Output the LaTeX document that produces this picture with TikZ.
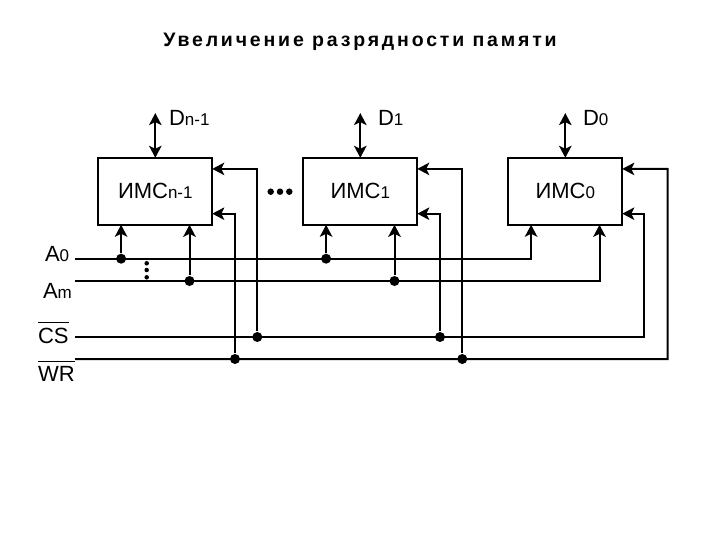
\documentclass[tikz,border=0pt]{standalone}
\usepackage{fontspec}
\setmainfont{Liberation Sans}
\newfontfamily\titlefont[LetterSpace=14.5]{Liberation Sans}
\usetikzlibrary{arrows.meta,positioning,calc}
\newcommand{\barred}[1]{\vbox{\hrule height 1.6pt \kern 4.2pt \hbox{#1}}}
\newcommand{\low}[1]{{\fontsize{17}{17}\selectfont #1}}

\begin{document}
\begin{tikzpicture}[x=1pt, y=-1pt, line width=2pt,
  box/.style={draw, line width=2pt, outer sep=0pt, minimum width=114pt, minimum height=67pt,
              inner sep=0pt, font=\fontsize{22}{24}\selectfont},
  lbl/.style={inner sep=0pt, anchor=base west, font=\fontsize{22}{24}\selectfont},
  tap/.style={circle, fill=black, inner sep=0pt, minimum size=10pt},
  pip/.style={circle, fill=black, inner sep=0pt, minimum size=#1},
  sig/.style={-{Stealth[length=12pt, width=12.5pt, inset=3pt]}},
  both/.style={{Stealth[length=12pt, width=12.5pt, inset=3pt]}-{Stealth[length=12pt, width=12.5pt, inset=3pt]}}
]
  \useasboundingbox (0,0) rectangle (720,540);

  \node[inner sep=0pt, anchor=base, font=\titlefont\fontsize{19.5}{20}\selectfont\bfseries] (title) at (360,47) {Увеличение разрядности памяти};

  \node[box]                     (imcn) at (155.3,191.3) {ИМС\low{n-1}};
  \node[box, right=91pt of imcn] (imc1) {ИМС\low{1}};
  \node[box, right=91pt of imc1] (imc0) {ИМС\low{0}};

  % data lines and the pins of each chip
  \foreach \m in {n,1,0} {
    \coordinate (top\m) at ([yshift=44.7pt]imc\m.north);
    \coordinate (pa\m) at ([xshift=-34.2pt]imc\m.south);
    \coordinate (pb\m) at ([xshift=34.2pt]imc\m.south);
    \coordinate (pu\m) at ([yshift=22.4pt]imc\m.east);
    \coordinate (pl\m) at ([yshift=-22.4pt]imc\m.east);
    \draw[both] (top\m) -- (imc\m.north);
  }

  \node[lbl] (dn) at (168,126) {D\low{n-1}};
  \node[lbl] (d1) at (377,126) {D\low{1}};
  \node[lbl] (d0) at (582,126) {D\low{0}};

  \node[lbl] (a0) at (44,261) {A\low{0}};
  \node[lbl] (am) at (42,298) {A\low{m}};
  \node[lbl] (cs) at (37,343) {\barred{CS}};
  \node[lbl] (wr) at (37,381.5) {\barred{WR}};

  % buses
  \coordinate (busa) at (75,258.7);
  \coordinate (busm) at (75,281);
  \coordinate (buscs) at (75,337);
  \coordinate (buswr) at (75,359);

  \draw[sig] (busa) -| (pa0);
  \draw[sig] (busm) -| (pb0);
  \draw[sig] (buscs) -| (644.3,213.7) -- (pl0);
  \draw[sig] (buswr) -| (667.7,169) -- (pu0);

  \foreach \m in {n,1} {
    \node[tap] (ta\m) at (pa\m |- busa) {};
    \node[tap] (tb\m) at (pb\m |- busm) {};
    \draw[sig] (ta\m) -- (pa\m);
    \draw[sig] (tb\m) -- (pb\m);
  }

  \node[tap] (csn) at (257.3,337) {};
  \node[tap] (wrn) at (235,359) {};
  \node[tap] (cs1) at (440,337) {};
  \node[tap] (wr1) at (462.3,359) {};
  \draw[sig] (csn) |- (pun);
  \draw[sig] (wrn) |- (pln);
  \draw[sig] (cs1) |- (pl1);
  \draw[sig] (wr1) |- (pu1);

  % the two runs of dots
  \foreach \x in {270.7,280,289.3}
    \node[pip=6.5pt] at (\x,191.7) {};
  \foreach \y in {263.3,270,277.3}
    \node[pip=4.5pt] at (146.7,\y) {};
\end{tikzpicture}
\end{document}
